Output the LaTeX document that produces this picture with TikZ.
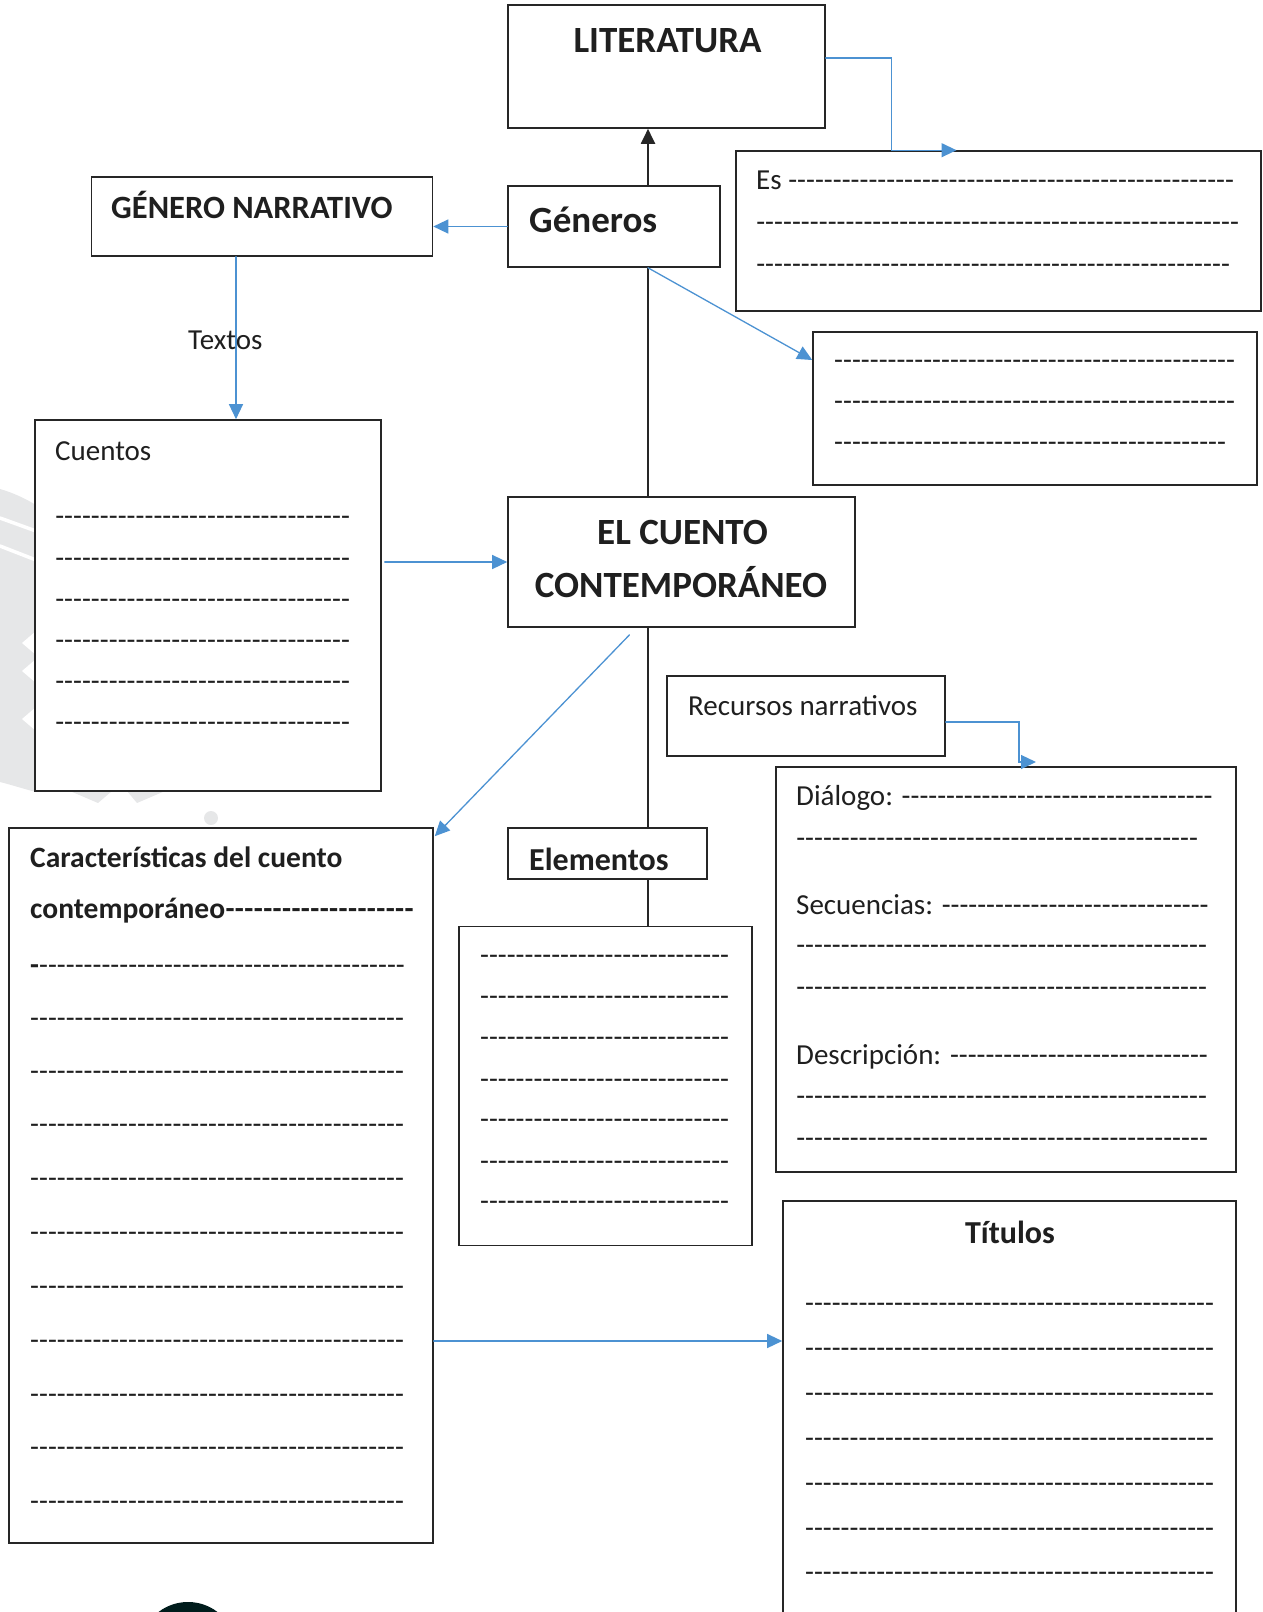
\documentclass[tikz,border=0pt]{standalone}
\usepackage{fontspec}
\setmainfont{Carlito}
\usetikzlibrary{arrows.meta}
\usetikzlibrary{calc}

\definecolor{azul}{RGB}{76,146,210}
\definecolor{borde}{RGB}{38,38,38}
\definecolor{marca}{RGB}{230,231,232}

% a row of hyphens, filled out to a given width
\newcommand{\rayas}[1]{\hbox to #1{\xleaders\hbox{-}\hfill}}

\begin{document}
\begin{tikzpicture}[x=1pt, y=-1pt, line cap=round,
    caja/.style={draw=borde, line width=1.6pt, fill=white, inner sep=0pt},
    flecha/.style={azul, line width=1.3pt, -{Triangle[length=15pt, width=14pt]}},
    tronco/.style={borde, line width=2pt},
    texto/.style={inner sep=0pt, text=black!88, font=\fontsize{29}{35}\selectfont},
    negrita/.style={inner sep=0pt, text=black!88, font=\fontsize{37}{44}\selectfont\bfseries}]

    \useasboundingbox (0,0) rectangle (1263,1612);
    \clip (0,0) rectangle (1263,1612);

    % watermark and photo
    \fill[marca] (0,489) .. controls (14,493) and (26,499) .. (36,505) -- (36,792) .. controls (24,789) and (12,785) .. (0,782) -- cycle;
    \draw[white, line width=3.5pt] (0,518) -- (36,531);
    \draw[white, line width=3.5pt] (0,546) -- (36,560);
    \foreach \y in {643, 671, 719} {
        \fill[white] (36,\y-12) -- (22,\y) -- (36,\y+12) -- cycle;
    }
    \fill[marca] (70,791) -- (98,803) -- (112,791) -- cycle;
    \fill[marca] (127,791) -- (137,803) -- (165,791) -- cycle;
    \fill[marca] (211,818) circle (7pt);
    \fill[black!78!teal] (188,1645) ellipse (46pt and 43pt);

    % boxes
    \node[caja, minimum width=317pt, minimum height=123pt] (lit) at (666.5,66.5) {};
    \node[caja, minimum width=212pt, minimum height=81pt] (gen) at (614,226.5) {};
    \node[caja, minimum width=525pt, minimum height=160pt] (es) at (998.5,231) {};
    \node[caja, minimum width=341pt, minimum height=79pt] (gnarr) at (262,216.5) {};
    \node[caja, minimum width=346pt, minimum height=371pt] (cuentos) at (208,605.5) {};
    \node[caja, minimum width=347pt, minimum height=130pt] (cc) at (681.5,562) {};
    \node[caja, minimum width=444pt, minimum height=153pt] (otra) at (1035,408.5) {};
    \node[caja, minimum width=278pt, minimum height=80pt] (rec) at (806,716) {};
    \node[caja, minimum width=460pt, minimum height=405pt] (dial) at (1006,969.5) {};
    \node[caja, minimum width=199pt, minimum height=51pt] (elem) at (607.5,853.5) {};
    \node[caja, minimum width=293pt, minimum height=319pt] (elbox) at (605.5,1086) {};
    \node[caja, minimum width=424pt, minimum height=715pt] (car) at (221,1185.5) {};
    \node[caja, minimum width=453pt, minimum height=459pt] (tit) at (1009.5,1430.5) {};

    % connectors
    \coordinate (eje) at (648,0);
    \coordinate (ctex) at (236,0);
    \coordinate (c1) at ([xshift=3pt]cuentos.east);
    \coordinate (rflecha) at (1036,762);
    \coordinate (ytit) at (0,1341);
    \draw[tronco, -{Triangle[length=15pt, width=14pt]}] (gen.north -| eje) -- (lit.south -| eje);
    \draw[tronco] (gen.south -| eje) -- (cc.north -| eje);
    \draw[tronco] (cc.south -| eje) -- (elem.north -| eje);
    \draw[tronco] (elem.south -| eje) -- (elbox.north -| eje);
    \draw[flecha] ([yshift=8.5pt]lit.east) -| ([xshift=-107pt]es.north) -- ([xshift=-42pt]es.north);
    \draw[flecha] (gen.west) -- (gen.west -| gnarr.east);
    \draw[flecha] (gnarr.south -| ctex) -- (cuentos.north -| ctex);
    \draw[flecha] (c1 |- cc.west) -- (cc.west);
    \draw[flecha] (gen.south -| eje) -- ([yshift=48.5pt]otra.west);
    \draw[flecha] ([shift={(-52pt,-7pt)}]cc.south) -- ([shift={(1pt,-9pt)}]car.north east);
    \draw[flecha] ([yshift=-6pt]rec.east) -| ([xshift=-17pt]rflecha) -- (rflecha);
    \draw[flecha] (ytit -| car.east) -- (ytit -| tit.west);

    % texts
    \node[negrita, anchor=base] (lit-t) at (667.5,52) {LITERATURA};
    \node[negrita, anchor=base west] (gen-t) at (529,232) {Géneros};
    \node[negrita, anchor=base west, font=\fontsize{32.5}{38}\selectfont\bfseries] (gnarr-t) at (111,218) {GÉNERO NARRATIVO};
    \node[texto, anchor=base west] (textos) at (188,349) {Textos};
    \node[texto, anchor=base west] (cuentos-t) at (55,460) {Cuentos};
    \node[negrita, anchor=base] (cc-1) at (682.5,544) {EL CUENTO};
    \node[negrita, anchor=base] (cc-2) at (681,597) {CONTEMPORÁNEO};
    \node[texto, anchor=base west] (rec-t) at (688,715) {Recursos narrativos};
    \node[negrita, anchor=base west, font=\fontsize{32}{38}\selectfont\bfseries] (elem-t) at (529,870) {Elementos};
    \node[negrita, anchor=base, font=\fontsize{32}{38}\selectfont\bfseries] (tit-t) at (1010,1243) {Títulos};
    \node[negrita, anchor=base west, font=\fontsize{29.5}{35}\selectfont\bfseries] (car-1) at (30,867) {Características del cuento};
    \node[negrita, anchor=base west, font=\fontsize{29.5}{35}\selectfont\bfseries] (car-2) at (30,918) {contemporáneo\rayas{189pt}};
    \node[texto, anchor=base west] (car-3) at (30,974.5) {{\bfseries -}\rayas{366pt}};

    \node[texto, anchor=base west] (es-1) at (756,189.5) {Es \rayas{446pt}};
    \node[texto, anchor=base west] (es-2) at (756,231.5) {\rayas{483pt}};
    \node[texto, anchor=base west] (es-3) at (756,273.5) {\rayas{474pt}};

    \node[texto, anchor=base west] (di-1) at (796,805) {Diálogo: \rayas{311pt}};
    \node[texto, anchor=base west] (di-2) at (796,847.5) {\rayas{402pt}};
    \node[texto, anchor=base west] (se-1) at (796,914) {Secuencias: \rayas{267pt}};
    \node[texto, anchor=base west] (se-2) at (796,954.5) {\rayas{411pt}};
    \node[texto, anchor=base west] (se-3) at (796,996.5) {\rayas{411pt}};
    \node[texto, anchor=base west] (de-1) at (796,1064) {Descripción: \rayas{258pt}};
    \node[texto, anchor=base west] (de-2) at (796,1105.5) {\rayas{411pt}};
    \node[texto, anchor=base west] (de-3) at (796,1147.5) {\rayas{412pt}};

    \foreach \y [count=\i] in {518, 560, 601, 642, 683, 724} {
        \node[texto, anchor=base west] (cu-\i) at (55,\y+7.5) {\rayas{295pt}};
    }
    \foreach \y/\w [count=\i] in {362/401, 403/401, 444/392} {
        \node[texto, anchor=base west] (ot-\i) at (834,\y+7.5) {\rayas{\w pt}};
    }
    \foreach \y [count=\i] in {957, 998, 1039, 1081, 1121, 1163, 1203} {
        \node[texto, anchor=base west] (el-\i) at (480,\y+7.5) {\rayas{249pt}};
    }
    \foreach \y [count=\i] in {1019.5, 1073, 1126.4, 1179.8, 1234.3, 1287.7, 1342.2, 1395.6, 1449, 1502.5} {
        \node[texto, anchor=base west] (ca-\i) at (30,\y+7.5) {\rayas{374pt}};
    }
    \foreach \y [count=\i] in {1305, 1350, 1395, 1440, 1485, 1530, 1574} {
        \node[texto, anchor=base west] (ti-\i) at (805,\y+7.5) {\rayas{409pt}};
    }

\end{tikzpicture}
\end{document}
